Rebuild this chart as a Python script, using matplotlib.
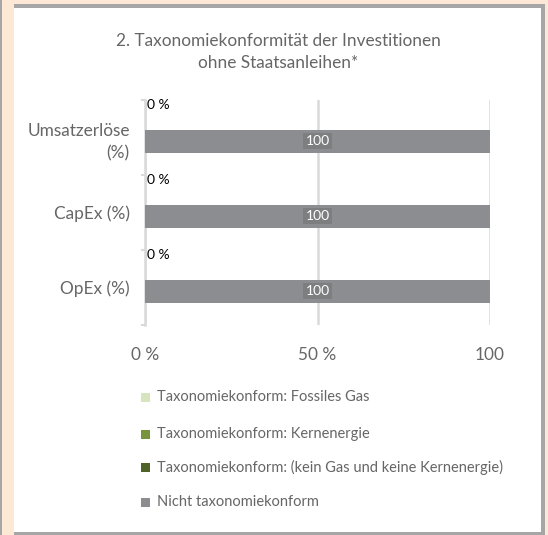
import matplotlib.pyplot as plt
from matplotlib.patches import Rectangle
import numpy as np

plt.rcParams['font.family'] = ['Lato', 'DejaVu Sans']

# Daten
kategorien = ['Umsatzerlöse\n(%)', 'CapEx (%)', 'OpEx (%)']
fossiles_gas = [0, 0, 0]
kernenergie = [0, 0, 0]
kein_gas = [0, 0, 0]
nicht_konform = [100, 100, 100]
x_ticks = [0, 50, 100]
x_ticklabels = ['0 %', '50 %', '100']

legende = ['Taxonomiekonform: Fossiles Gas',
           'Taxonomiekonform: Kernenergie',
           'Taxonomiekonform: (kein Gas und keine Kernenergie)',
           'Nicht taxonomiekonform']
farben = ['#d7e4bd', '#77933c', '#4f6228', '#8c8d90']
textfarbe = '#666666'

W, H = 548, 535
fig = plt.figure(figsize=(W / 100, H / 100), dpi=100)
fig.patch.set_facecolor('#fce8d5')

# Rahmen / weisses Panel
fig.patches.append(Rectangle((0, 0), 1.5 / W, 1, transform=fig.transFigure,
                             facecolor='#a6a6a6', edgecolor='none', zorder=-3))
fig.patches.append(Rectangle((14 / W, 1 - 535 / H), (545 - 14) / W, (535 - 4) / H,
                             transform=fig.transFigure, facecolor='#a6a6a6', edgecolor='none',
                             zorder=-3))
fig.patches.append(Rectangle((14 / W, 1 - 532 / H), (541 - 14) / W, (532 - 8) / H,
                             transform=fig.transFigure, facecolor='white', edgecolor='none',
                             zorder=-2))

fig.text(278 / W, 1 - 41 / H, '2. Taxonomiekonformität der Investitionen',
         ha='center', va='center', fontsize=12.4, color=textfarbe)
fig.text(278 / W, 1 - 63 / H, 'ohne Staatsanleihen*',
         ha='center', va='center', fontsize=12.4, color=textfarbe)

ax = fig.add_axes([145 / W, 1 - 325 / H, (490 - 145) / W, (325 - 100) / H])
ax.set_facecolor('none')
ax.set_zorder(2)

y = np.arange(len(kategorien))
y_gruen = y - 0.43
y_grau = y + 0.05
h = 0.3

links = np.zeros(len(kategorien))
for werte, farbe in zip([fossiles_gas, kernenergie, kein_gas], farben[:3]):
    ax.barh(y_gruen, werte, left=links, height=h, color=farbe, zorder=3)
    links = links + np.array(werte)
for yy, s in zip(y_gruen, links):
    ax.text(s + 0.6, yy, '%d %%' % s, ha='left', va='center', fontsize=10,
            color='black', zorder=4)

ax.barh(y_grau, nicht_konform, height=h, color=farben[3], zorder=3)
for yy, v in zip(y_grau, nicht_konform):
    ax.text(v / 2, yy, '%d' % v, ha='center', va='center', fontsize=10, color='white',
            zorder=4, bbox=dict(boxstyle='square,pad=0.15', facecolor='#7d7e80', edgecolor='none'))

ax.set_xlim(0, 100)
ax.set_ylim(2.5, -0.5)
ax.set_xticks(x_ticks)
ax.set_xticklabels(x_ticklabels, fontsize=12.4, color=textfarbe)
ax.tick_params(axis='x', length=0, pad=16)
ax.set_yticks(y)
ax.set_yticklabels(kategorien, fontsize=12.4, color=textfarbe, linespacing=1.5)
ax.tick_params(axis='y', which='major', length=0, pad=11)
ax.set_yticks([-0.5, 0.5, 1.5, 2.5], minor=True)
ax.tick_params(axis='y', which='minor', length=3, color='#d9d9d9', width=1.5)
for lab in ax.get_yticklabels():
    lab.set_multialignment('right')

ax.grid(axis='x', color='#d9d9d9', linewidth=1.8, zorder=0)
for s in ['top', 'right', 'bottom']:
    ax.spines[s].set_visible(False)
ax.spines['left'].set_color('#d9d9d9')
ax.spines['left'].set_linewidth(1.8)

# Legende
leg_y = [397, 434, 467, 502]
for txt, farbe, ly in zip(legende, farben, leg_y):
    fig.patches.append(Rectangle((141 / W, 1 - (ly + 4.5) / H), 9 / W, 9 / H,
                                 transform=fig.transFigure, facecolor=farbe, edgecolor='none'))
    fig.text(157 / W, 1 - ly / H, txt, ha='left', va='center', fontsize=10.5, color=textfarbe)

fig.savefig('out.png', dpi=100, facecolor=fig.get_facecolor())
